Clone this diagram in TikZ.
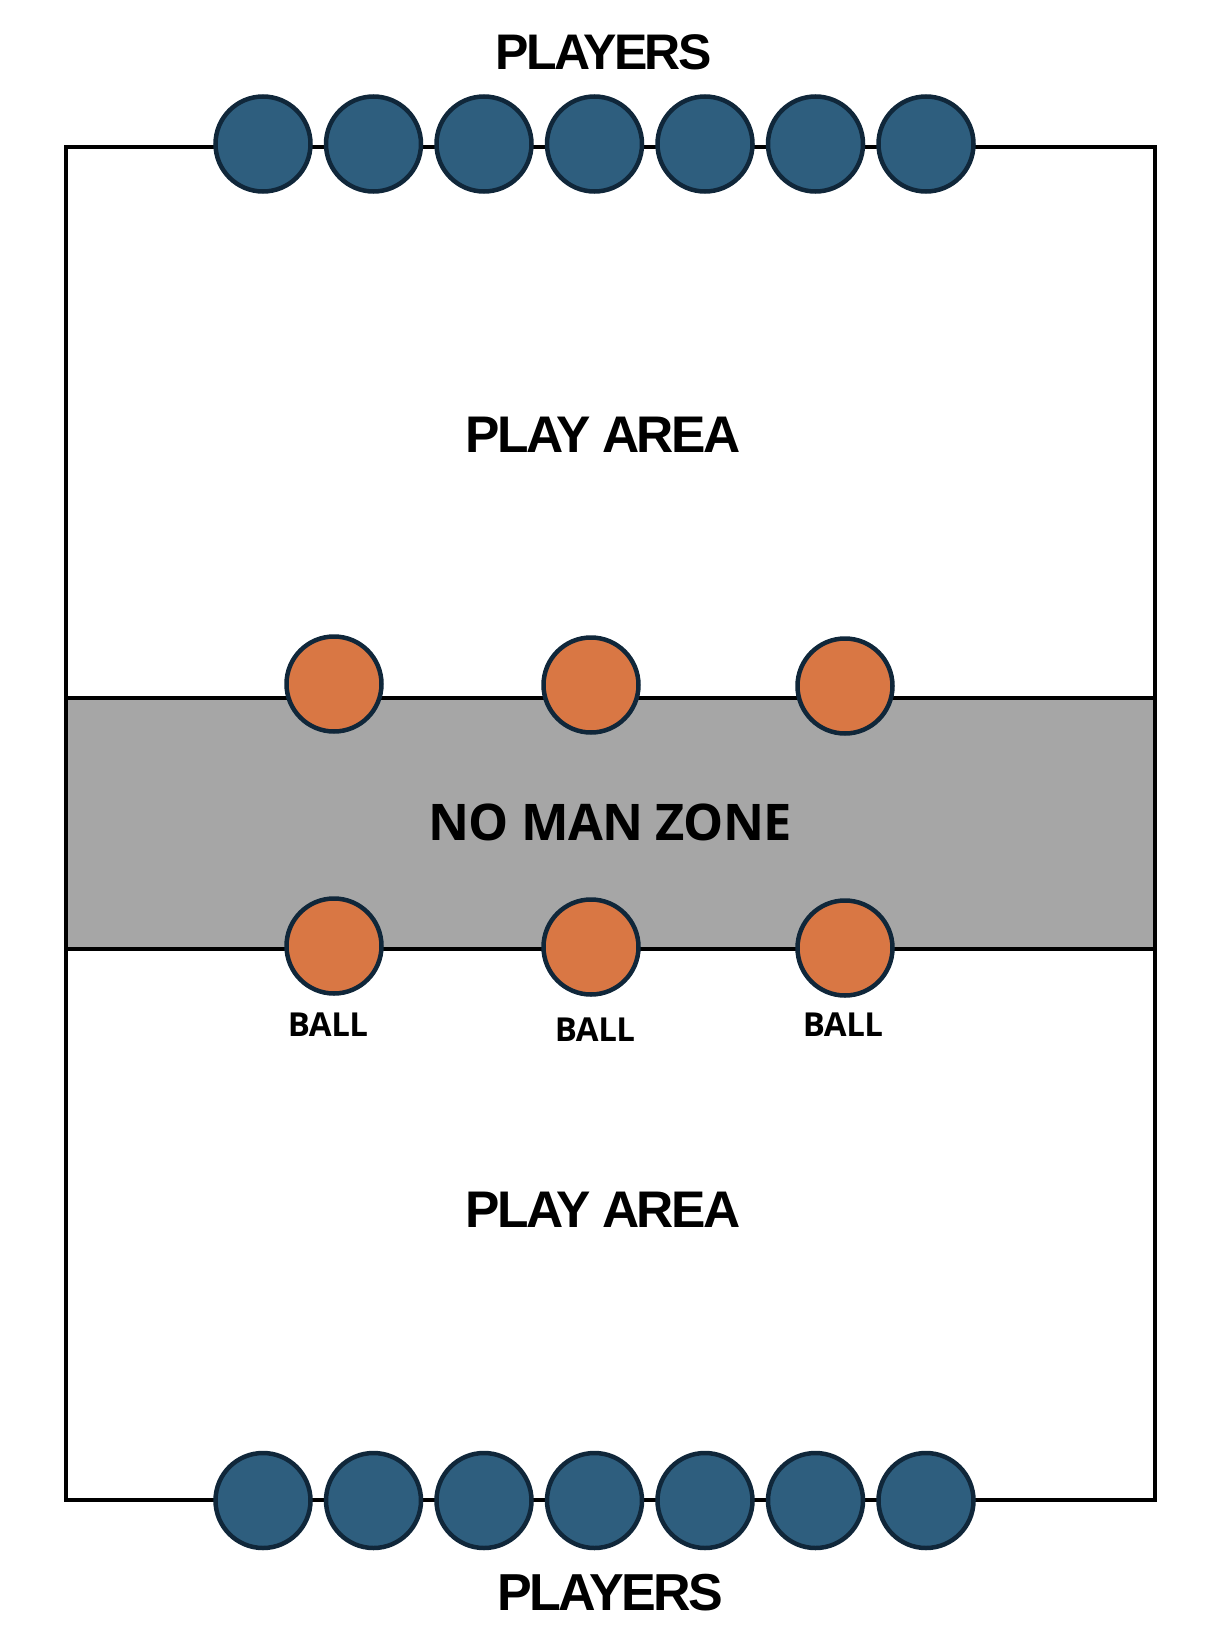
\documentclass[tikz,border=0pt]{standalone}
\usepackage{fontspec}
\setmainfont{Liberation Sans}
\newfontfamily\headfont{Liberation Sans}[LetterSpace=-5]
\newfontfamily\zonefont{Open Sans}[LetterSpace=-1.5]
\usetikzlibrary{positioning}
\definecolor{playerfill}{HTML}{2E5E7E}
\definecolor{ballfill}{HTML}{D97744}
\definecolor{rim}{HTML}{10273A}
\definecolor{zonefill}{HTML}{A6A6A6}

\begin{document}
\begin{tikzpicture}[
  x=1pt, y=-1pt,
  player/.style={circle, draw=rim, line width=4.5pt, fill=playerfill, minimum size=95pt, inner sep=0pt},
  ball/.style={circle, draw=rim, line width=4.5pt, fill=ballfill, minimum size=95pt, inner sep=0pt},
  field/.style={draw=black, line width=4.2pt},
  head/.style={anchor=base, inner sep=0pt, font=\headfont\bfseries},
  lbl/.style={anchor=base, inner sep=0pt, font=\zonefont\bfseries},
]
\useasboundingbox (0,0) rectangle (1220,1646);
% pitch and no man zone
\fill[zonefill] (66,698) rectangle (1155,949);
\draw[field] (66,147) rectangle (1155,1500);
\draw[field] (66,698) -- (1155,698);
\draw[field] (66,949) -- (1155,949);

% players, top line
\node[player] (pt1) at (263,144) {};
\node[player] (pt2) at (373.5,144) {};
\node[player] (pt3) at (484,144) {};
\node[player] (pt4) at (594.5,144) {};
\node[player] (pt5) at (705,144) {};
\node[player] (pt6) at (815.5,144) {};
\node[player] (pt7) at (926,144) {};
% players, bottom line
\node[player] (pb1) at (263,1500.5) {};
\node[player] (pb2) at (373.5,1500.5) {};
\node[player] (pb3) at (484,1500.5) {};
\node[player] (pb4) at (594.5,1500.5) {};
\node[player] (pb5) at (705,1500.5) {};
\node[player] (pb6) at (815.5,1500.5) {};
\node[player] (pb7) at (926,1500.5) {};

% balls on both zone lines
\node[ball] (bt1) at (334,684) {};
\node[ball] (bt2) at (591,685) {};
\node[ball] (bt3) at (845,686) {};
\node[ball] (bb1) at (334,946) {};
\node[ball] (bb2) at (591,947) {};
\node[ball] (bb3) at (845,948) {};

% texts
\node[head, font=\headfont\bfseries\fontsize{50}{60}\selectfont] (playerstop) at (603.5,69.3) {PLAYERS};
\node[head, font=\headfont\bfseries\fontsize{52}{62}\selectfont] (playersbot) at (610.3,1610.7) {PLAYERS};
\node[head, font=\headfont\bfseries\fontsize{51.5}{62}\selectfont] (areatop) at (603,452) {PLAY AREA};
\node[head, font=\headfont\bfseries\fontsize{51.5}{62}\selectfont] (areabot) at (603,1227.3) {PLAY AREA};
\node[lbl, font=\zonefont\bfseries\fontsize{50.5}{61}\selectfont] (zone) at (610,840.7) {NO MAN ZONE};
\node[lbl, font=\zonefont\bfseries\fontsize{33}{40}\selectfont] (ball1) at (328,1036.7) {BALL};
\node[lbl, font=\zonefont\bfseries\fontsize{33}{40}\selectfont] (ball2) at (595,1041.7) {BALL};
\node[lbl, font=\zonefont\bfseries\fontsize{33}{40}\selectfont] (ball3) at (843,1036.7) {BALL};
\end{tikzpicture}
\end{document}
